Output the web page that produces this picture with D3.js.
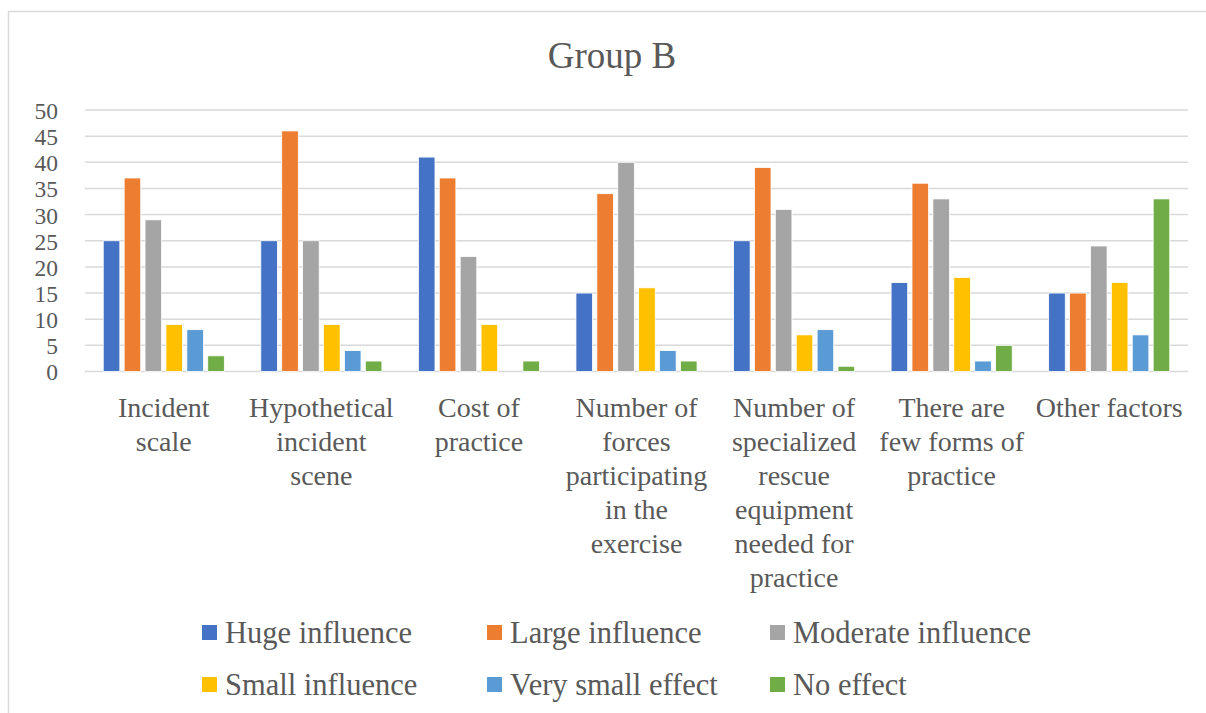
<!DOCTYPE html>
<html>
<head>
<meta charset="utf-8">
<script src="https://cdn.jsdelivr.net/npm/d3@7"></script>
<style>
  html, body { margin: 0; padding: 0; background: #fff; }
  svg { display: block; }
</style>
</head>
<body>
<svg id="chart" width="1206" height="713"></svg>
<script>
// Survey results for Group B: count of responses per factor and influence level
const categories = [
  ["Incident", "scale"],
  ["Hypothetical", "incident", "scene"],
  ["Cost of", "practice"],
  ["Number of", "forces", "participating", "in the", "exercise"],
  ["Number of", "specialized", "rescue", "equipment", "needed for", "practice"],
  ["There are", "few forms of", "practice"],
  ["Other factors"]
];
const seriesNames = ["Huge influence", "Large influence", "Moderate influence", "Small influence", "Very small effect", "No effect"];
const seriesColors = ["#4472c4", "#ed7d31", "#a5a5a5", "#ffc000", "#5b9bd5", "#70ad47"];
const hugeInfluence     = [25, 25, 41, 15, 25, 17, 15];
const largeInfluence    = [37, 46, 37, 34, 39, 36, 15];
const moderateInfluence = [29, 25, 22, 40, 31, 33, 24];
const smallInfluence    = [9, 9, 9, 16, 7, 18, 17];
const verySmallEffect   = [8, 4, 0, 4, 8, 2, 7];
const noEffect          = [3, 2, 2, 2, 1, 5, 33];
const seriesValues = [hugeInfluence, largeInfluence, moderateInfluence, smallInfluence, verySmallEffect, noEffect];
const yTicks = [0, 5, 10, 15, 20, 25, 30, 35, 40, 45, 50];

const FONT = "'Liberation Serif', 'Tinos', 'DejaVu Serif', 'Noto Serif', serif";
const INK = "#595959";

const svg = d3.select("#chart")
  .attr("font-family", FONT);

// chart frame
svg.append("rect")
  .attr("x", 8.5).attr("y", 11.5)
  .attr("width", 1230).attr("height", 720)
  .attr("fill", "none").attr("stroke", "#d9d9d9").attr("stroke-width", 1.5);

const plot = { left: 85, right: 1188, top: 110, bottom: 371.5 };

const x0 = d3.scaleBand()
  .domain(d3.range(categories.length))
  .range([plot.left, plot.right])
  .paddingInner(0).paddingOuter(0);

const y = d3.scaleLinear().domain([0, 50]).range([plot.bottom, plot.top]);

// title
svg.append("text")
  .attr("x", 612).attr("y", 68)
  .attr("text-anchor", "middle")
  .attr("font-family", FONT)
  .attr("font-size", 37)
  .attr("fill", INK)
  .text("Group B");

// horizontal gridlines
svg.append("g").selectAll("line")
  .data(yTicks)
  .join("line")
  .attr("x1", plot.left).attr("x2", plot.right)
  .attr("y1", d => y(d)).attr("y2", d => y(d))
  .attr("stroke", "#d9d9d9").attr("stroke-width", 1.5);

// y axis labels
const yAxis = d3.axisLeft(y).tickValues(yTicks).tickSize(0).tickPadding(0);
const yg = svg.append("g").attr("transform", "translate(58,0)").call(yAxis)
  .attr("font-family", FONT).attr("font-size", 23.5);
yg.select(".domain").remove();
yg.selectAll("text")
  .attr("dy", "0.36em")
  .attr("fill", INK);

// bars: six per category
const pitch = 20.9;
const barW = 16.6;
const groups = svg.append("g").selectAll("g")
  .data(categories.map((c, i) => i))
  .join("g")
  .attr("transform", i => `translate(${x0(i) + x0.bandwidth() / 2},0)`);

groups.selectAll("rect")
  .data(i => seriesValues.map((vals, s) => ({ s, v: vals[i] })))
  .join("rect")
  .filter(d => d.v > 0)
  .attr("x", d => (d.s - 2.5) * pitch - barW / 2)
  .attr("width", barW)
  .attr("y", d => y(d.v))
  .attr("height", d => y(0) - y(d.v))
  .attr("fill", d => seriesColors[d.s])
  .attr("stroke", "#ffffff")
  .attr("stroke-width", 0.8);

// category labels (wrapped lines)
const labelG = svg.append("g");
categories.forEach((lines, i) => {
  const t = labelG.append("text")
    .attr("text-anchor", "middle")
    .attr("font-family", FONT)
    .attr("font-size", 28)
    .attr("fill", INK);
  lines.forEach((ln, j) => {
    t.append("tspan")
      .attr("x", x0(i) + x0.bandwidth() / 2)
      .attr("y", 417 + j * 34)
      .text(ln);
  });
});

// legend
const legendCols = [202, 487, 770];
const legendRows = [625, 677];
const leg = svg.append("g").selectAll("g")
  .data(seriesNames)
  .join("g")
  .attr("transform", (d, i) => `translate(${legendCols[i % 3]},${legendRows[Math.floor(i / 3)]})`);
leg.append("rect")
  .attr("width", 15).attr("height", 15)
  .attr("fill", (d, i) => seriesColors[i]);
leg.append("text")
  .attr("x", 23).attr("y", 18)
  .attr("font-family", FONT)
  .attr("font-size", 30.5)
  .attr("fill", INK)
  .text(d => d);
</script>
</body>
</html>
